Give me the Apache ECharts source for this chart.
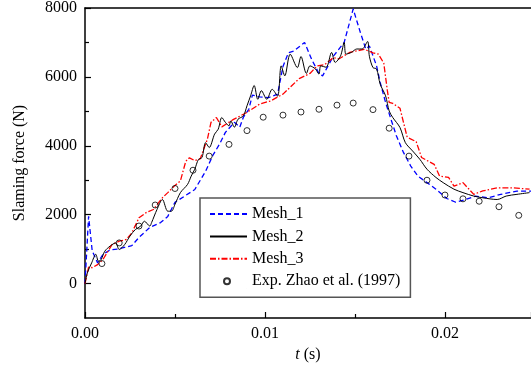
<!DOCTYPE html>
<html>
<head>
<meta charset="utf-8">
<script src="https://cdn.jsdelivr.net/npm/echarts@6/dist/echarts.min.js"></script>
<style>html,body{margin:0;padding:0;background:#fff}#c{width:531px;height:377px}</style>
</head>
<body>
<div id="c"></div>
<script>
// ---- data (t in s, force in N) ----
const mesh1T = [0,0.0002,0.0004,0.0007,0.001,0.0014,0.0018,0.0022,0.0026,0.003,0.0036,0.0042,0.0046,0.005,0.0056,0.0061,0.0067,0.0071,0.0075,0.0078,0.0083,0.0086,0.0088,0.0091,0.0093,0.0097,0.0102,0.0107,0.011,0.0113,0.0116,0.0122,0.0126,0.013,0.0132,0.0138,0.0144,0.0149,0.0153,0.0156,0.0158,0.0162,0.0164,0.0167,0.017,0.0173,0.0177,0.0181,0.0185,0.019,0.0195,0.0201,0.0206,0.0212,0.0217,0.0224,0.0231,0.024,0.0248];
const mesh1F = [0,1950,950,600,850,980,1000,1050,1100,1340,1630,1770,1950,2360,2560,2730,3260,3720,4070,4390,4680,4540,4830,5060,5470,5420,5400,5500,6300,6700,6750,7000,6500,6100,6030,6600,7000,7970,7290,6810,6900,6320,5840,5260,4770,4290,3800,3410,3120,2930,2740,2470,2360,2450,2540,2490,2590,2685,2685];

const mesh2T = [0,0.00013,0.00037,0.0006,0.00075,0.0009,0.0011,0.0014,0.0017,0.0019,0.0022,0.0025,0.0028,0.0031,0.0033,0.0036,0.0037,0.004,0.0043,0.0046,0.0048,0.005,0.0053,0.0057,0.0059,0.0061,0.0063,0.0065,0.0067,0.0069,0.0072,0.0074,0.0076,0.0078,0.008,0.0081,0.0083,0.0085,0.0088,0.009,0.0092,0.0094,0.0096,0.0098,0.0101,0.0104,0.0107,0.0109,0.0111,0.0114,0.0118,0.012,0.0123,0.0125,0.0128,0.013,0.0131,0.0134,0.0137,0.0139,0.0142,0.0144,0.0145,0.0148,0.0151,0.0154,0.0157,0.0158,0.016,0.0162,0.0164,0.0167,0.0169,0.0171,0.0175,0.0178,0.0182,0.0186,0.019,0.0195,0.0199,0.0205,0.021,0.0216,0.0221,0.0229,0.0234,0.024,0.0247];
const mesh2F = [0,310,600,850,650,700,940,1090,1180,990,1130,1380,1570,1670,1810,1670,1770,2150,2440,2100,2100,2300,2640,2880,3120,3320,3600,3660,4090,3950,4340,4480,4820,4680,4580,4720,4540,4770,4870,5160,5450,5750,5350,5600,5350,5640,5440,6320,6030,6660,6270,6590,6100,6320,6230,6080,6320,6280,6710,6420,6610,7000,6660,6710,6810,6810,7030,6600,6270,6230,5790,5450,5010,4820,4530,4090,3850,3610,3320,3080,2930,2740,2640,2540,2490,2440,2540,2590,2640];

const mesh3T = [0,0.0002,0.0004,0.0007,0.001,0.0015,0.0019,0.0023,0.0026,0.003,0.0034,0.0038,0.0043,0.0046,0.005,0.0053,0.0056,0.0058,0.0061,0.0064,0.0068,0.007,0.0073,0.0076,0.0082,0.009,0.0097,0.0103,0.011,0.0115,0.0119,0.0125,0.0129,0.0133,0.0138,0.0141,0.0147,0.0155,0.016,0.0163,0.0166,0.0168,0.0169,0.0171,0.0175,0.0179,0.0184,0.0187,0.0194,0.0197,0.0202,0.0205,0.021,0.0216,0.0221,0.0229,0.0238,0.0247];
const mesh3F = [0,480,460,550,700,1130,1230,1280,1470,1910,2060,2150,2490,2640,2850,2980,3550,3650,3570,3620,4190,4680,4820,4550,4750,4970,5210,5300,5500,5750,5950,6100,6320,6350,6560,6520,6710,6800,6700,6660,6400,5600,5260,5230,5090,4250,4120,3660,3460,3120,3080,2830,2930,2590,2690,2780,2780,2740];

const expT = [0.00094,0.0019,0.003,0.0039,0.005,0.006,0.0069,0.008,0.009,0.0099,0.011,0.012,0.013,0.014,0.0149,0.016,0.0169,0.018,0.019,0.02,0.021,0.0219,0.023,0.0241];
const expF = [580,1180,1670,2280,2760,3290,3700,4040,4440,4830,4890,4980,5060,5180,5240,5050,4510,3700,3000,2570,2460,2390,2230,1980];

const seriesNames = ['Mesh_1','Mesh_2','Mesh_3','Exp. Zhao et al. (1997)'];
const yMajorTicks = [0,2000,4000,6000,8000];
const yMinorTicks = [1000,3000,5000,7000];

const zip = (a,b) => a.map((v,i)=>[v,b[i]]);
const FONT = 'Liberation Serif';
const noSym = {color:'rgba(0,0,0,0)',borderColor:'rgba(0,0,0,0)',borderWidth:0};

const chart = echarts.init(document.getElementById('c'));
chart.setOption({
  animation:false,
  backgroundColor:'#fff',
  grid:{left:85,right:0,top:7,bottom:59},
  xAxis:[{
    type:'value',min:0,max:0.02478,interval:0.01,
    name:'{i|t} (s)',nameLocation:'middle',nameGap:28,
    nameTextStyle:{fontFamily:FONT,fontSize:16,color:'#000',rich:{i:{fontFamily:FONT,fontSize:16,fontStyle:'italic',color:'#000'}}},
    axisLine:{show:true,onZero:false,lineStyle:{color:'#000',width:1.5}},
    axisTick:{show:true,inside:true,length:6,lineStyle:{color:'#000',width:1.2}},
    minorTick:{show:true,splitNumber:2,length:4,lineStyle:{color:'#000',width:1.2}},
    axisLabel:{margin:8,fontFamily:FONT,fontSize:16,color:'#000',formatter:v=>v.toFixed(2),showMaxLabel:false},
    splitLine:{show:false}
  },{
    type:'value',position:'top',min:0,max:0.02478,
    axisLine:{show:true,onZero:false,lineStyle:{color:'#000',width:1.5}},
    axisTick:{show:false},axisLabel:{show:false},splitLine:{show:false}
  }],
  yAxis:[{
    type:'value',min:-1000,max:8000,
    name:'Slaming force (N)',nameLocation:'middle',nameGap:57,
    nameTextStyle:{fontFamily:FONT,fontSize:16,color:'#000'},
    axisLine:{show:true,onZero:false,lineStyle:{color:'#000',width:1.5}},
    axisTick:{show:true,inside:true,length:6,customValues:yMajorTicks,lineStyle:{color:'#000',width:1.2}},
    axisLabel:{margin:8,fontFamily:FONT,fontSize:16,color:'#000',customValues:yMajorTicks,formatter:v=>String(v)},
    splitLine:{show:false}
  },{
    type:'value',min:-1000,max:8000,position:'left',
    axisLine:{show:false},
    axisTick:{show:true,inside:true,length:4,customValues:yMinorTicks,lineStyle:{color:'#000',width:1.2}},
    axisLabel:{show:false,customValues:yMinorTicks},
    splitLine:{show:false}
  }],
  legend:{
    orient:'vertical',left:200,top:198,align:'left',
    itemWidth:37,itemHeight:14,itemGap:6.4,
    padding:[8,10,8,9],
    borderColor:'#555',borderWidth:1.5,backgroundColor:'#fff',
    textStyle:{fontFamily:FONT,fontSize:16,color:'#000'},
    data:[
      {name:seriesNames[0],itemStyle:noSym},{name:seriesNames[1],itemStyle:noSym},{name:seriesNames[2],itemStyle:noSym},
      {name:seriesNames[3],icon:'path://M0,0L0.01,0M37,14L37.01,14M20,7A3,3,0,1,1,14,7A3,3,0,1,1,20,7Z'}
    ]
  },
  series:[
    {name:seriesNames[0],type:'line',data:zip(mesh1T,mesh1F),symbol:'none',smooth:false,
     lineStyle:{color:'#0000ff',width:1.3,type:[5,3]},itemStyle:{color:'#0000ff'},z:2},
    {name:seriesNames[1],type:'line',data:zip(mesh2T,mesh2F),symbol:'none',smooth:0.3,
     lineStyle:{color:'#000',width:1},itemStyle:{color:'#000'},z:3},
    {name:seriesNames[2],type:'line',data:zip(mesh3T,mesh3F),symbol:'none',smooth:false,
     lineStyle:{color:'#ff0000',width:1.3,type:[6,2,1.5,2]},itemStyle:{color:'#ff0000'},z:2},
    {name:seriesNames[3],type:'scatter',data:zip(expT,expF),symbol:'circle',symbolSize:6,
     itemStyle:{color:'rgba(255,255,255,0)',borderColor:'#000',borderWidth:1},z:4}
  ]
});
</script>
</body>
</html>
